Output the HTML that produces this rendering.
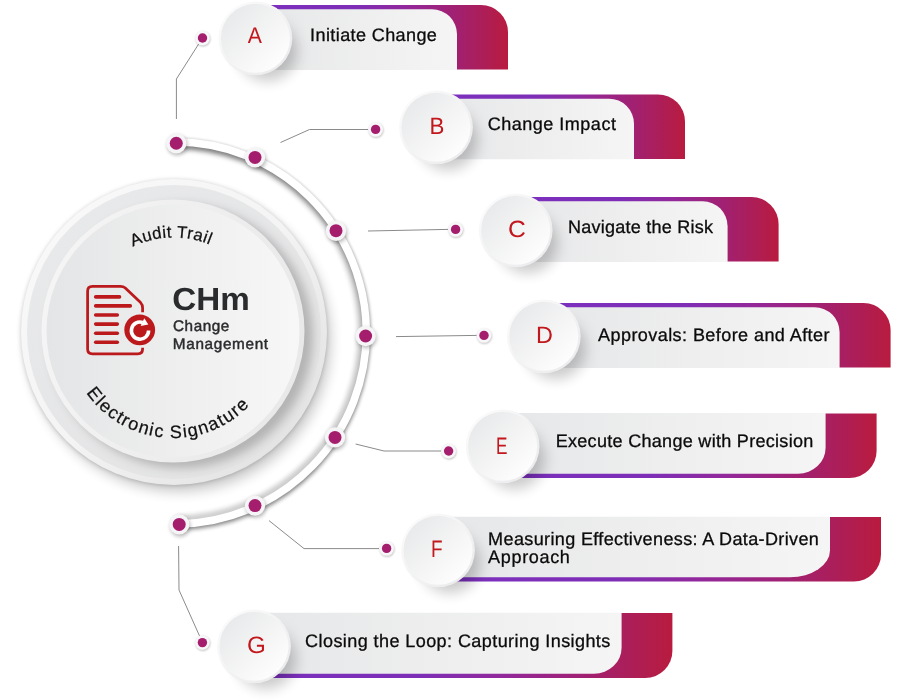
<!DOCTYPE html>
<html lang="en"><head><meta charset="utf-8"><title>CHm Change Management</title>
<style>html,body{margin:0;padding:0;background:#fff}body{width:900px;height:700px;overflow:hidden}svg{display:block}text{font-family:"Liberation Sans",Arial,sans-serif;text-rendering:geometricPrecision}</style>
</head><body>
<svg width="900" height="700" viewBox="0 0 900 700">
<defs>
<linearGradient id="gp" x1="0" y1="0" x2="1" y2="0"><stop offset="0" stop-color="#7b30be"/><stop offset="0.4" stop-color="#7e2eb6"/><stop offset="0.6" stop-color="#93289a"/><stop offset="0.8" stop-color="#a22070"/><stop offset="0.9" stop-color="#ac1e58"/><stop offset="1" stop-color="#b91b3e"/></linearGradient>
<linearGradient id="gg" x1="0" y1="0" x2="1" y2="0"><stop offset="0" stop-color="#e6e7e8"/><stop offset="1" stop-color="#f5f5f5"/></linearGradient>
<linearGradient id="gc" x1="0.15" y1="0.15" x2="0.85" y2="0.85"><stop offset="0" stop-color="#e9eaeb"/><stop offset="1" stop-color="#fdfdfd"/></linearGradient>
<linearGradient id="grim" x1="0.15" y1="0.15" x2="0.85" y2="0.85"><stop offset="0" stop-color="#fafafa"/><stop offset="1" stop-color="#ececee"/></linearGradient>
<linearGradient id="grim2" x1="0" y1="0" x2="1" y2="0.3"><stop offset="0" stop-color="#f6f6f7"/><stop offset="1" stop-color="#e9e9ea"/></linearGradient>
<linearGradient id="grim3" x1="0.2" y1="0.1" x2="0.9" y2="0.8"><stop offset="0" stop-color="#f8f8f8"/><stop offset="0.5" stop-color="#f4f4f4"/><stop offset="1" stop-color="#e4e4e5"/></linearGradient>
<linearGradient id="gbig" x1="0" y1="0" x2="1" y2="0"><stop offset="0" stop-color="#e4e5e6"/><stop offset="1" stop-color="#f7f7f7"/></linearGradient>
<linearGradient id="gring" x1="0" y1="0" x2="1" y2="1"><stop offset="0" stop-color="#e9eaeb"/><stop offset="1" stop-color="#e2e2e3"/></linearGradient>
<filter id="b2" x="-50%" y="-50%" width="200%" height="200%"><feGaussianBlur stdDeviation="2"/></filter>
<filter id="b25" x="-50%" y="-50%" width="200%" height="200%"><feGaussianBlur stdDeviation="2.5"/></filter>
<filter id="b3" x="-50%" y="-50%" width="200%" height="200%"><feGaussianBlur stdDeviation="3.5"/></filter>
<filter id="b5" x="-50%" y="-50%" width="200%" height="200%"><feGaussianBlur stdDeviation="5"/></filter>
<filter id="b7" x="-50%" y="-50%" width="200%" height="200%"><feGaussianBlur stdDeviation="7"/></filter>
<filter id="b8" x="-50%" y="-50%" width="200%" height="200%"><feGaussianBlur stdDeviation="8"/></filter>
<filter id="b1" x="-50%" y="-50%" width="200%" height="200%"><feGaussianBlur stdDeviation="1.2"/></filter>
<clipPath id="cout"><circle cx="174" cy="332" r="153"/></clipPath>
<path id="ptop" d="M 79 332 A 94.5 94.5 0 0 1 268 332"/>
<path id="pbot" d="M 67 332 A 106 106 0 0 0 279 332"/>
</defs>
<rect width="900" height="700" fill="#fff"/>
<g opacity="0.999">
<g fill="none" stroke-linecap="round">
<path d="M 174.23 147 A 186 186 0 0 1 178.45 518.97" stroke="#000" stroke-opacity="0.22" stroke-width="6.5" filter="url(#b25)"/>
<path d="M 174.18 139 A 194 194 0 0 1 178.59 526.97" stroke="#000" stroke-opacity="0.1" stroke-width="4" filter="url(#b1)"/>
<path d="M 174.2 142 A 191 191 0 0 1 178.53 523.97" transform="translate(0.4,2.8)" stroke="#000" stroke-opacity="0.42" stroke-width="7" filter="url(#b2)"/>
<path d="M 174.2 142 A 191 191 0 0 1 178.53 523.97" stroke="#fff" stroke-width="7.5"/>
</g>
<circle cx="174" cy="332.5" r="153" fill="#000" fill-opacity="0.18" filter="url(#b2)"/>
<circle cx="179" cy="340" r="151" fill="#000" fill-opacity="0.24" filter="url(#b7)"/>
<circle cx="174" cy="332" r="153" fill="url(#grim3)"/>
<circle cx="174" cy="332" r="147" fill="url(#gring)"/>
<g clip-path="url(#cout)"><circle cx="181" cy="336" r="132" fill="#000" fill-opacity="0.21" filter="url(#b5)"/></g>
<circle cx="173" cy="331" r="131.5" fill="url(#grim2)"/>
<circle cx="173" cy="331" r="126.5" fill="url(#gbig)"/>
<g fill="none" stroke="#8a8a8a" stroke-width="1">
<polyline points="176.4,119 176.4,79 199.3,43"/>
<polyline points="280.5,142.5 309.5,129.5 368,129.5"/>
<polyline points="368,231 448,229.4"/>
<polyline points="396,336.6 477,335.4"/>
<polyline points="355.6,444 384,451 441,451"/>
<polyline points="269,520.6 304,548.6 379,548.6"/>
<polyline points="178.6,546 179,590 200,637"/>
</g>
<circle cx="177.25" cy="145.25" r="10" fill="#000" fill-opacity="0.3" filter="url(#b2)"/>
<circle cx="176.25" cy="143.25" r="10.2" fill="#f5f5f7"/>
<circle cx="176.25" cy="143.25" r="6.5" fill="#a51d6d"/>
<circle cx="256" cy="159.4" r="10" fill="#000" fill-opacity="0.3" filter="url(#b2)"/>
<circle cx="255" cy="157.4" r="10.2" fill="#f5f5f7"/>
<circle cx="255" cy="157.4" r="6.5" fill="#a51d6d"/>
<circle cx="337" cy="232.7" r="10" fill="#000" fill-opacity="0.3" filter="url(#b2)"/>
<circle cx="336" cy="230.7" r="10.2" fill="#f5f5f7"/>
<circle cx="336" cy="230.7" r="6.5" fill="#a51d6d"/>
<circle cx="366.6" cy="338" r="10" fill="#000" fill-opacity="0.3" filter="url(#b2)"/>
<circle cx="365.6" cy="336" r="10.2" fill="#f5f5f7"/>
<circle cx="365.6" cy="336" r="6.5" fill="#a51d6d"/>
<circle cx="336" cy="439.4" r="10" fill="#000" fill-opacity="0.3" filter="url(#b2)"/>
<circle cx="335" cy="437.4" r="10.2" fill="#f5f5f7"/>
<circle cx="335" cy="437.4" r="6.5" fill="#a51d6d"/>
<circle cx="256" cy="507.6" r="10" fill="#000" fill-opacity="0.3" filter="url(#b2)"/>
<circle cx="255" cy="505.6" r="10.2" fill="#f5f5f7"/>
<circle cx="255" cy="505.6" r="6.5" fill="#a51d6d"/>
<circle cx="180.2" cy="526.4" r="10" fill="#000" fill-opacity="0.3" filter="url(#b2)"/>
<circle cx="179.2" cy="524.4" r="10.2" fill="#f5f5f7"/>
<circle cx="179.2" cy="524.4" r="6.5" fill="#a51d6d"/>
<circle cx="203" cy="39" r="7.4" fill="#000" fill-opacity="0.25" filter="url(#b1)"/>
<circle cx="202.5" cy="38" r="7.4" fill="#f7f7f9"/>
<circle cx="202.5" cy="38" r="4.7" fill="#a51d6d"/>
<circle cx="376.1" cy="130.4" r="7.4" fill="#000" fill-opacity="0.25" filter="url(#b1)"/>
<circle cx="375.6" cy="129.4" r="7.4" fill="#f7f7f9"/>
<circle cx="375.6" cy="129.4" r="4.7" fill="#a51d6d"/>
<circle cx="456.1" cy="230.4" r="7.4" fill="#000" fill-opacity="0.25" filter="url(#b1)"/>
<circle cx="455.6" cy="229.4" r="7.4" fill="#f7f7f9"/>
<circle cx="455.6" cy="229.4" r="4.7" fill="#a51d6d"/>
<circle cx="484.5" cy="336.4" r="7.4" fill="#000" fill-opacity="0.25" filter="url(#b1)"/>
<circle cx="484" cy="335.4" r="7.4" fill="#f7f7f9"/>
<circle cx="484" cy="335.4" r="4.7" fill="#a51d6d"/>
<circle cx="449.1" cy="452" r="7.4" fill="#000" fill-opacity="0.25" filter="url(#b1)"/>
<circle cx="448.6" cy="451" r="7.4" fill="#f7f7f9"/>
<circle cx="448.6" cy="451" r="4.7" fill="#a51d6d"/>
<circle cx="387.1" cy="549.4" r="7.4" fill="#000" fill-opacity="0.25" filter="url(#b1)"/>
<circle cx="386.6" cy="548.4" r="7.4" fill="#f7f7f9"/>
<circle cx="386.6" cy="548.4" r="4.7" fill="#a51d6d"/>
<circle cx="202.9" cy="643.6" r="7.4" fill="#000" fill-opacity="0.25" filter="url(#b1)"/>
<circle cx="202.4" cy="642.6" r="7.4" fill="#f7f7f9"/>
<circle cx="202.4" cy="642.6" r="4.7" fill="#a51d6d"/>
<path d="M 255.4 5 H 481 A 27 27 0 0 1 508 32 V 69.6 H 255.4 Z" fill="url(#gp)"/>
<path d="M 255.4 9.3 H 432 A 25 25 0 0 1 457 34.3 V 69.9 H 255.4 Z" fill="url(#gg)"/>
<circle cx="267.4" cy="51" r="30" fill="#000" fill-opacity="0.21" filter="url(#b7)"/>
<circle cx="255.4" cy="38.3" r="36.9" fill="url(#grim)"/>
<circle cx="255.4" cy="38.3" r="34.5" fill="url(#gc)"/>
<text transform="translate(247.66,42.88) scale(0.933,1)" font-size="22.72" fill="#c2171c">A</text>
<text x="310.1" y="41.3" font-size="18.05" fill="#0b0b0b" stroke="#0b0b0b" stroke-width="0.3" textLength="126.8" lengthAdjust="spacing">Initiate Change</text>
<path d="M 436 94.4 H 658 A 27 27 0 0 1 685 121.4 V 159 H 436 Z" fill="url(#gp)"/>
<path d="M 436 98.7 H 609 A 25 25 0 0 1 634 123.7 V 159.3 H 436 Z" fill="url(#gg)"/>
<circle cx="448" cy="140" r="30" fill="#000" fill-opacity="0.21" filter="url(#b7)"/>
<circle cx="436" cy="127.3" r="36.9" fill="url(#grim)"/>
<circle cx="436" cy="127.3" r="34.5" fill="url(#gc)"/>
<text transform="translate(429.45,133.80) scale(0.951,1)" font-size="23.49" fill="#c2171c">B</text>
<text x="487.7" y="129.9" font-size="18.05" fill="#0b0b0b" stroke="#0b0b0b" stroke-width="0.3" textLength="128.2" lengthAdjust="spacing">Change Impact</text>
<path d="M 515.7 197 H 751.6 A 27 27 0 0 1 778.6 224 V 261.6 H 515.7 Z" fill="url(#gp)"/>
<path d="M 515.7 201.3 H 702.6 A 25 25 0 0 1 727.6 226.3 V 261.9 H 515.7 Z" fill="url(#gg)"/>
<circle cx="527.7" cy="243" r="30" fill="#000" fill-opacity="0.21" filter="url(#b7)"/>
<circle cx="515.7" cy="230.3" r="36.9" fill="url(#grim)"/>
<circle cx="515.7" cy="230.3" r="34.5" fill="url(#gc)"/>
<text transform="translate(507.88,236.57) scale(1.050,1)" font-size="23.53" fill="#c2171c">C</text>
<text x="568.1" y="233" font-size="18.05" fill="#0b0b0b" stroke="#0b0b0b" stroke-width="0.3" textLength="144.8" lengthAdjust="spacing">Navigate the Risk</text>
<path d="M 543.8 303 H 863.6 A 27 27 0 0 1 890.6 330 V 367.6 H 543.8 Z" fill="url(#gp)"/>
<path d="M 543.8 307.3 H 814.6 A 25 25 0 0 1 839.6 332.3 V 367.9 H 543.8 Z" fill="url(#gg)"/>
<circle cx="555.8" cy="349" r="30" fill="#000" fill-opacity="0.21" filter="url(#b7)"/>
<circle cx="543.8" cy="336.3" r="36.9" fill="url(#grim)"/>
<circle cx="543.8" cy="336.3" r="34.5" fill="url(#gc)"/>
<text transform="translate(536.11,342.80) scale(0.996,1)" font-size="23.49" fill="#c2171c">D</text>
<text x="598.1" y="341" font-size="18.05" fill="#0b0b0b" stroke="#0b0b0b" stroke-width="0.3" textLength="231.4" lengthAdjust="spacing">Approvals: Before and After</text>
<path d="M 502.6 413.4 H 876.6 V 451 A 27 27 0 0 1 849.6 478 H 502.6 Z" fill="url(#gp)"/>
<path d="M 502.6 413.1 H 825.6 V 447.7 A 27.5 26 0 0 1 798.1 473.7 H 502.6 Z" fill="url(#gg)"/>
<circle cx="514.6" cy="459" r="30" fill="#000" fill-opacity="0.21" filter="url(#b7)"/>
<circle cx="502.6" cy="446.3" r="36.9" fill="url(#grim)"/>
<circle cx="502.6" cy="446.3" r="34.5" fill="url(#gc)"/>
<text transform="translate(495.97,454.26) scale(0.718,1)" font-size="23.90" fill="#c2171c">E</text>
<text x="555.7" y="447.4" font-size="18.05" fill="#0b0b0b" stroke="#0b0b0b" stroke-width="0.3" textLength="257.6" lengthAdjust="spacing">Execute Change with Precision</text>
<path d="M 438 517 H 881 V 554.5 A 27 27 0 0 1 854 581.5 H 438 Z" fill="url(#gp)"/>
<path d="M 438 516.7 H 830 V 550.2 A 40 27 0 0 1 790 577.2 H 438 Z" fill="url(#gg)"/>
<circle cx="450" cy="563" r="30" fill="#000" fill-opacity="0.21" filter="url(#b7)"/>
<circle cx="438" cy="550.3" r="36.9" fill="url(#grim)"/>
<circle cx="438" cy="550.3" r="34.5" fill="url(#gc)"/>
<text transform="translate(430.97,556.62) scale(0.794,1)" font-size="23.90" fill="#c2171c">F</text>
<text x="488.1" y="545.1" font-size="18.05" fill="#0b0b0b" stroke="#0b0b0b" stroke-width="0.3" textLength="330.8" lengthAdjust="spacing">Measuring Effectiveness: A Data-Driven</text>
<text x="488.1" y="563.1" font-size="18.05" fill="#0b0b0b" stroke="#0b0b0b" stroke-width="0.3" textLength="81.8" lengthAdjust="spacing">Approach</text>
<path d="M 254 613 H 672.4 V 651 A 27 27 0 0 1 645.4 678 H 254 Z" fill="url(#gp)"/>
<path d="M 254 612.7 H 621.6 V 647.7 A 27.5 26 0 0 1 594.1 673.7 H 254 Z" fill="url(#gg)"/>
<circle cx="266" cy="659" r="30" fill="#000" fill-opacity="0.21" filter="url(#b7)"/>
<circle cx="254" cy="646.3" r="36.9" fill="url(#grim)"/>
<circle cx="254" cy="646.3" r="34.5" fill="url(#gc)"/>
<text transform="translate(246.90,652.57) scale(1.019,1)" font-size="23.69" fill="#c2171c">G</text>
<text x="305.1" y="647" font-size="18.05" fill="#0b0b0b" stroke="#0b0b0b" stroke-width="0.3" textLength="305.2" lengthAdjust="spacing">Closing the Loop: Capturing Insights</text>
<text font-size="16.8" fill="#111" stroke="#111" stroke-width="0.25" text-anchor="middle" letter-spacing="0.4"><textPath href="#ptop" startOffset="49.2%">Audit Trail</textPath></text>
<text font-size="18" fill="#111" stroke="#111" stroke-width="0.25" text-anchor="middle" letter-spacing="1.35"><textPath href="#pbot" startOffset="47.7%">Electronic Signature</textPath></text>
<text x="172.2" y="310" font-size="32" font-weight="700" fill="#2a2b2d" textLength="77.5" lengthAdjust="spacingAndGlyphs">CHm</text>
<text x="173" y="330.5" font-size="15.3" fill="#2a2b2d" stroke="#2a2b2d" stroke-width="0.45" textLength="56.3" lengthAdjust="spacing">Change</text>
<text x="172.8" y="348.9" font-size="15.3" fill="#2a2b2d" stroke="#2a2b2d" stroke-width="0.45" textLength="95.3" lengthAdjust="spacing">Management</text>
<g fill="none" stroke="#bb191c" stroke-linecap="round" stroke-linejoin="round">
<path d="M 142.6 312.2 V 308 Q 142.6 304.6 140.6 302.6 L 125 287.7 Q 123.4 286.4 120.4 286.4 H 92.4 Q 87.6 286.4 87.6 291.2 V 349.1 Q 87.6 353.9 92.4 353.9 H 137.8 Q 142.6 353.9 142.6 349.1 V 347.7" stroke-width="2.75" stroke-linecap="butt"/>
<g stroke-width="3.6">
<line x1="95.7" y1="296.9" x2="119.5" y2="296.9"/>
<line x1="95.7" y1="305.9" x2="130.3" y2="305.9"/>
<line x1="95.7" y1="315" x2="117.3" y2="315"/>
<line x1="95.7" y1="324.1" x2="117.3" y2="324.1"/>
<line x1="95.7" y1="333.2" x2="117.3" y2="333.2"/>
<line x1="95.7" y1="342.3" x2="117.3" y2="342.3"/>
</g></g>
<circle cx="139.7" cy="329.8" r="15.4" fill="#bb191c"/>
<path d="M 148.6 330.6 A 8.6 8.6 0 1 1 142.66 322.42" fill="none" stroke="#fff" stroke-width="3.6"/>
<path d="M 144.3 318.3 L 148.3 324.5 L 140.6 326 Z" fill="#fff"/>
</g>
</svg>
</body></html>
